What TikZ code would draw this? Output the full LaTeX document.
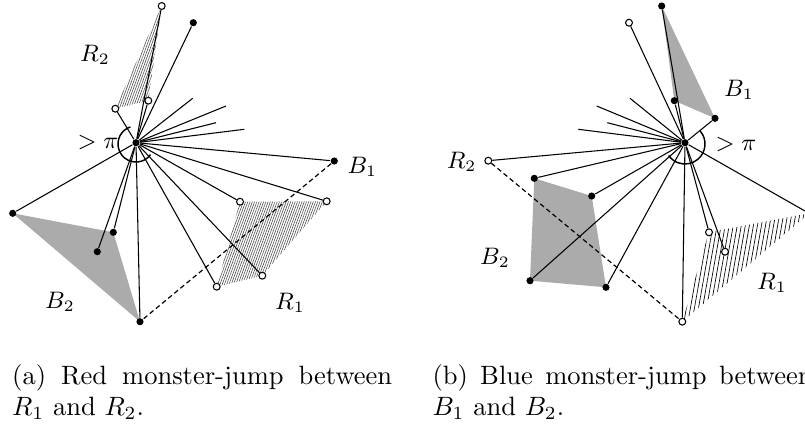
\documentclass[tikz,border=0pt]{standalone}
\usetikzlibrary{patterns.meta,backgrounds}
\begin{document}
\begin{tikzpicture}[
  x=0.3774pt, y=-0.3774pt,
  bdot/.style={circle, fill, inner sep=0pt, minimum size=2.7pt},
  wdot/.style={circle, draw, fill=white, inner sep=0pt, minimum size=2.6pt, line width=0.4pt},
  lab/.style={font=\fontsize{8.8}{10}\selectfont, inner sep=0pt},
  blueregion/.style={fill=black!33},
  redregion/.style={pattern={Lines[angle=70,distance=0.8pt,line width=0.2pt]}, pattern color=black!75},
  jump/.style={dash pattern=on 1.8pt off 1.2pt, line width=0.45pt}
]
\clip (0,0) rectangle (805,424);

% (a) red monster-jump
\node[bdot] (ca) at (136,142.7) {};
\node[wdot] (a1) at (161.7,6) {};
\node[bdot] (a2) at (193.3,22.7) {};
\node[wdot] (a3) at (115.3,108.7) {};
\node[wdot] (a4) at (148.3,100.7) {};
\node[bdot] (a5) at (334.3,161) {};
\node[wdot] (a6) at (326.7,201.3) {};
\node[wdot] (a7) at (240,201.7) {};
\node[wdot] (a8) at (262.3,275.7) {};
\node[wdot] (a9) at (216.7,286.7) {};
\node[bdot] (a10) at (140,321.7) {};
\node[bdot] (a11) at (12.7,213.3) {};
\node[bdot] (a12) at (113.3,232.3) {};
\node[bdot] (a13) at (97.3,251.7) {};
\coordinate (sa1) at (192.7,98.3);
\coordinate (sa2) at (226,106);
\coordinate (sa3) at (216,122.7);
\coordinate (sa4) at (244.3,129.3);

\begin{scope}[on background layer]
  \fill[blueregion] (a11.center) -- (a12.center) -- (a10.center) -- cycle;
  \fill[redregion] (a1.center) -- (a3.center) -- (a4.center) -- cycle;
  \fill[redregion] (a7.center) -- (a6.center) -- (a8.center) -- (a9.center) -- cycle;
  \foreach \p in {a1,a2,a3,a4,a5,a6,a7,a8,a9,a10,a11,a12,a13,sa1,sa2,sa3,sa4}
    \draw (ca) -- (\p);
  \draw[jump] (a5) -- (a10);
\end{scope}
\draw[line width=0.55pt] (136,144) ++(-108:18) arc[start angle=-108, end angle=-324, radius=18];

\node[lab] (ra2) at (95,55) {$R_2$};
\node[lab, anchor=west] (ba1) at (347,167) {$B_1$};
\node[lab] (ra1) at (290,303) {$R_1$};
\node[lab] (ba2) at (60,302) {$B_2$};
\node[lab] (anga) at (98,143) {$>\pi$};

% (b) blue monster-jump
\node[bdot] (cb) at (685,142.7) {};
\node[bdot] (b1) at (661.7,6) {};
\node[wdot] (b2) at (629,22.7) {};
\node[bdot] (b3) at (674.3,100.7) {};
\node[bdot] (b4) at (715,118.3) {};
\node[wdot] (b5) at (488.3,160.7) {};
\node[bdot] (b6) at (534.3,178.3) {};
\node[bdot] (b7) at (591.7,196) {};
\node[bdot] (b8) at (530,280.7) {};
\node[bdot] (b9) at (606,287.3) {};
\node[wdot] (b10) at (682.3,321.7) {};
\node[wdot] (b11) at (709,232.3) {};
\node[wdot] (b12) at (725,251.7) {};
\node[wdot] (b13) at (809,213.3) {};
\coordinate (sb1) at (630,98.3);
\coordinate (sb2) at (596.7,106);
\coordinate (sb3) at (607.3,122.7);
\coordinate (sb4) at (578.3,129.3);

\begin{scope}[on background layer]
  \fill[blueregion] (b1.center) -- (b3.center) -- (b4.center) -- cycle;
  \fill[blueregion] (b6.center) -- (b7.center) -- (b9.center) -- (b8.center) -- cycle;
  \fill[pattern={Lines[angle=80,distance=1.5pt,line width=0.25pt]}] (b10.center) -- (b11.center) -- (b13.center) -- cycle;
  \foreach \p in {b1,b2,b3,b4,b5,b6,b7,b8,b9,b10,b11,b12,b13,sb1,sb2,sb3,sb4}
    \draw (cb) -- (\p);
  \draw[jump] (b5) -- (b10);
\end{scope}
\draw[line width=0.55pt] (685,144) ++(-40:20) arc[start angle=-40, end angle=145, radius=20];

\node[lab] (bb1) at (739,90) {$B_1$};
\node[lab] (angb) at (736,145) {$>\pi$};
\node[lab] (rb2) at (461.7,161.7) {$R_2$};
\node[lab] (bb2) at (495,258) {$B_2$};
\node[lab] (rb1) at (772,283) {$R_1$};

% captions
\node[anchor=base west, inner sep=0pt] (capa) at (11.7,384)
  {\parbox[t]{143.4pt}{(a) Red monster-jump between $R_1$ and $R_2$.}};
\node[anchor=base west, inner sep=0pt] (capb) at (432,384)
  {\parbox[t]{143.4pt}{(b) Blue monster-jump between $B_1$ and $B_2$.}};
\end{tikzpicture}
\end{document}
